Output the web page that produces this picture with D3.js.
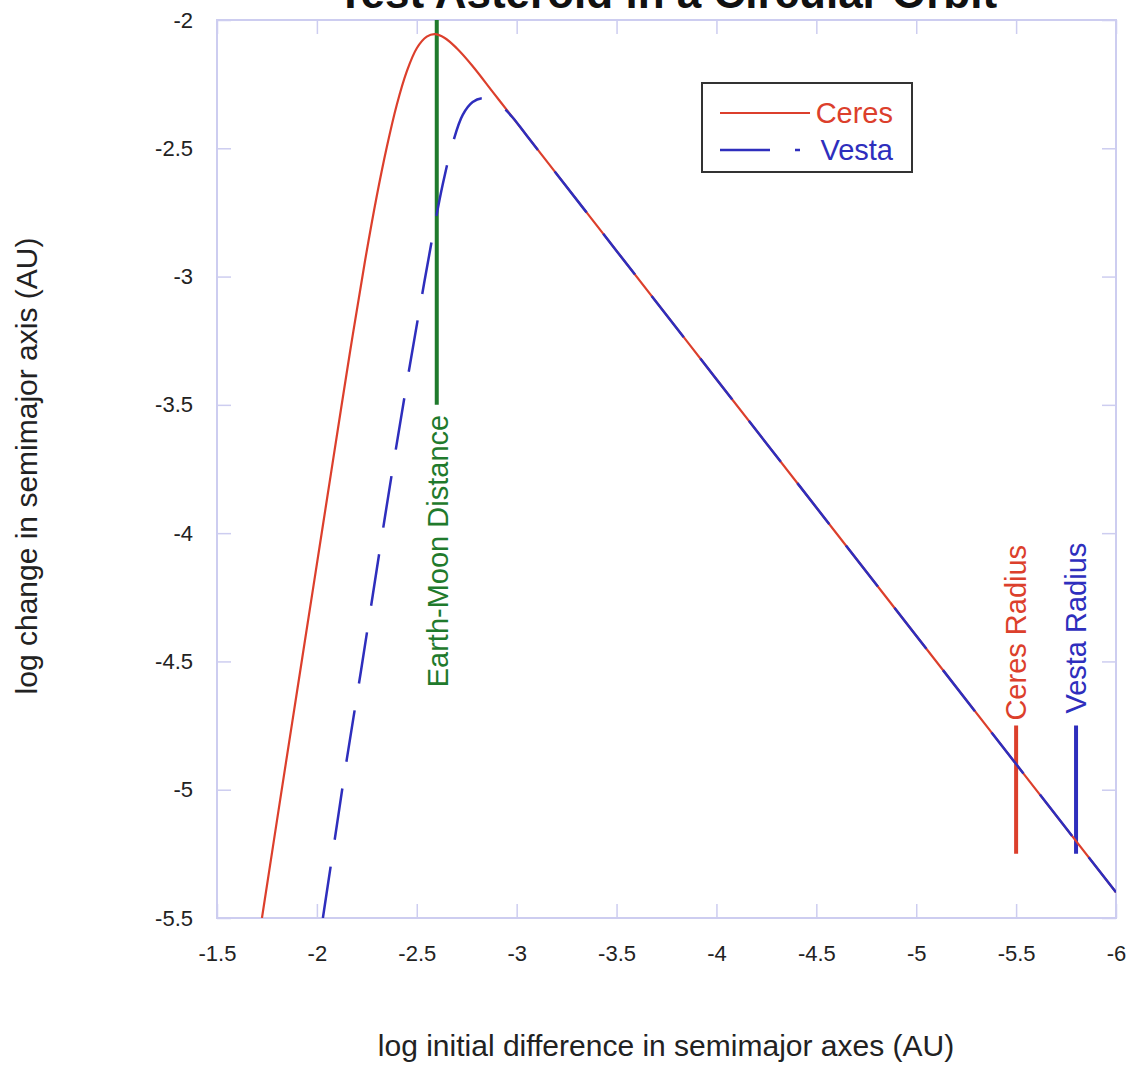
<!DOCTYPE html>
<html><head><meta charset="utf-8">
<script src="https://cdn.jsdelivr.net/npm/d3@7"></script>
<style>
body{margin:0;background:#fff}
svg{display:block;font-family:"Liberation Sans",Arial,Helvetica,sans-serif}
</style>
</head><body>
<svg id="chart" width="1130" height="1075"></svg>
<script>
// ---- data ----
const xTicks = [-1.5, -2, -2.5, -3, -3.5, -4, -4.5, -5, -5.5, -6];
const xTickLabels = ["-1.5", "-2", "-2.5", "-3", "-3.5", "-4", "-4.5", "-5", "-5.5", "-6"];
const yTicks = [-2, -2.5, -3, -3.5, -4, -4.5, -5, -5.5];
const yTickLabels = ["-2", "-2.5", "-3", "-3.5", "-4", "-4.5", "-5", "-5.5"];

const ceresX = [-1.725, -1.82, -1.90, -1.98, -2.05, -2.12, -2.18, -2.24, -2.30, -2.35, -2.40, -2.45, -2.50, -2.55, -2.59, -2.64, -2.70, -2.78, -2.88, -3.0, -3.5, -4.0, -4.5, -5.0, -5.5, -6.0];
const ceresY = [-5.50, -5.02, -4.62, -4.22, -3.87, -3.52, -3.225, -2.943, -2.685, -2.495, -2.33, -2.20, -2.11, -2.065, -2.055, -2.07, -2.11, -2.18, -2.28, -2.40, -2.90, -3.40, -3.90, -4.40, -4.90, -5.40];

const vestaX = [-2.03, -2.09, -2.15, -2.22, -2.28, -2.34, -2.40, -2.46, -2.52, -2.58, -2.63, -2.68, -2.73, -2.78, -2.83, -2.88, -2.93, -2.98, -3.05, -3.5, -4.0, -4.5, -5.0, -5.5, -6.0];
const vestaY = [-5.50, -5.19, -4.88, -4.54, -4.24, -3.94, -3.65, -3.37, -3.10, -2.84, -2.64, -2.48, -2.37, -2.32, -2.305, -2.315, -2.34, -2.38, -2.45, -2.90, -3.40, -3.90, -4.40, -4.90, -5.40];

const seriesNames = ["Ceres", "Vesta"];
const markerNames = ["Earth-Moon Distance", "Ceres Radius", "Vesta Radius"];
const markerX = [-2.6, -5.5, -5.8];
const markerYTop = [-2, -4.75, -4.75];
const markerYBottom = [-3.5, -5.25, -5.25];

// ---- styles ----
const RED = "#dc3f2c", BLUE = "#2e2ebd", GREEN = "#1f7a2c", FRAME = "#cdcdf0";

const svg = d3.select("#chart");
const L = 217, R = 1116, T = 20, B = 918;
const x = d3.scaleLinear().domain([-1.5, -6]).range([L, R]);
const y = d3.scaleLinear().domain([-5.5, -2]).range([B, T]);

// Title (partially cut at top, as in the reference)
svg.append("text").attr("x", 667).attr("y", 8).attr("text-anchor", "middle")
  .attr("font-size", 44).attr("font-weight", "bold").attr("fill", "#111")
  .text("Test Asteroid in a Circular Orbit");

// Axes with inward ticks
function styleAxis(g){
  g.select(".domain").remove();
  g.selectAll(".tick line").attr("stroke", FRAME).attr("stroke-width", 1.5);
  g.selectAll(".tick text").attr("fill", "#222").attr("font-size", 22)
    .attr("font-family", '"Liberation Sans",Arial,sans-serif');
}
svg.append("g").attr("transform", `translate(0,${B})`)
  .call(d3.axisBottom(x).tickValues(xTicks).tickSize(-14).tickPadding(27)
    .tickFormat((d, i) => xTickLabels[i]))
  .call(styleAxis);
svg.append("g").attr("transform", `translate(0,${T})`)
  .call(d3.axisTop(x).tickValues(xTicks).tickSize(-14).tickFormat(""))
  .call(styleAxis);
svg.append("g").attr("transform", `translate(${L},0)`)
  .call(d3.axisLeft(y).tickValues(yTicks).tickSize(-14).tickPadding(24)
    .tickFormat((d, i) => yTickLabels[i]))
  .call(styleAxis);
svg.append("g").attr("transform", `translate(${R},0)`)
  .call(d3.axisRight(y).tickValues(yTicks).tickSize(-14).tickFormat(""))
  .call(styleAxis);

// frame
svg.append("rect").attr("x", L).attr("y", T).attr("width", R - L).attr("height", B - T)
  .attr("fill", "none").attr("stroke", FRAME).attr("stroke-width", 2);

// Axis titles
svg.append("text").attr("x", 666).attr("y", 1056).attr("text-anchor", "middle")
  .attr("font-size", 30).attr("fill", "#222")
  .text("log initial difference in semimajor axes (AU)");
svg.append("text").attr("transform", "translate(37,466) rotate(-90)").attr("text-anchor", "middle")
  .attr("font-size", 30).attr("fill", "#222")
  .text("log change in semimajor axis (AU)");

// Curves
const line = d3.line().x(d => x(d[0])).y(d => y(d[1])).curve(d3.curveCatmullRom.alpha(0.5));
const ceres = ceresX.map((v, i) => [v, ceresY[i]]);
const vesta = vestaX.map((v, i) => [v, vestaY[i]]);

svg.append("clipPath").attr("id", "plotclip").append("rect")
  .attr("x", L).attr("y", T).attr("width", R - L).attr("height", B - T);
const plot = svg.append("g").attr("clip-path", "url(#plotclip)");

// Marker lines
const markerColors = [GREEN, RED, BLUE];
markerX.forEach((mx, i) => {
  plot.append("line").attr("x1", x(mx)).attr("x2", x(mx))
    .attr("y1", y(markerYTop[i])).attr("y2", y(markerYBottom[i]))
    .attr("stroke", markerColors[i]).attr("stroke-width", 4);
});

plot.append("path").attr("d", line(ceres)).attr("fill", "none")
  .attr("stroke", RED).attr("stroke-width", 2.2);
plot.append("path").attr("d", line(vesta)).attr("fill", "none")
  .attr("stroke", BLUE).attr("stroke-width", 2.5).attr("stroke-dasharray", "52,27");

// Marker labels
svg.append("text")
  .attr("transform", `translate(${x(markerX[0]) + 11},${y(markerYBottom[0]) + 10}) rotate(-90)`)
  .attr("text-anchor", "end").attr("font-size", 29).attr("fill", GREEN).text(markerNames[0]);
svg.append("text")
  .attr("transform", `translate(${x(markerX[1]) + 10},${y(markerYTop[1]) - 5}) rotate(-90)`)
  .attr("text-anchor", "start").attr("font-size", 29).attr("fill", RED).text(markerNames[1]);
svg.append("text")
  .attr("transform", `translate(${x(markerX[2]) + 10},${y(markerYTop[2]) - 12}) rotate(-90)`)
  .attr("text-anchor", "start").attr("font-size", 29).attr("fill", BLUE).text(markerNames[2]);

// Legend
const lg = svg.append("g");
lg.append("rect").attr("x", 702).attr("y", 83).attr("width", 210).attr("height", 89)
  .attr("fill", "#fff").attr("stroke", "#333").attr("stroke-width", 2);
lg.append("line").attr("x1", 720).attr("x2", 810).attr("y1", 113).attr("y2", 113)
  .attr("stroke", RED).attr("stroke-width", 2.2);
lg.append("text").attr("x", 893).attr("y", 123).attr("text-anchor", "end")
  .attr("font-size", 29).attr("fill", RED).text(seriesNames[0]);
lg.append("line").attr("x1", 720).attr("x2", 800).attr("y1", 150).attr("y2", 150)
  .attr("stroke", BLUE).attr("stroke-width", 2.5).attr("stroke-dasharray", "50,25");
lg.append("text").attr("x", 893).attr("y", 160).attr("text-anchor", "end")
  .attr("font-size", 29).attr("fill", BLUE).text(seriesNames[1]);
</script>
</body></html>
